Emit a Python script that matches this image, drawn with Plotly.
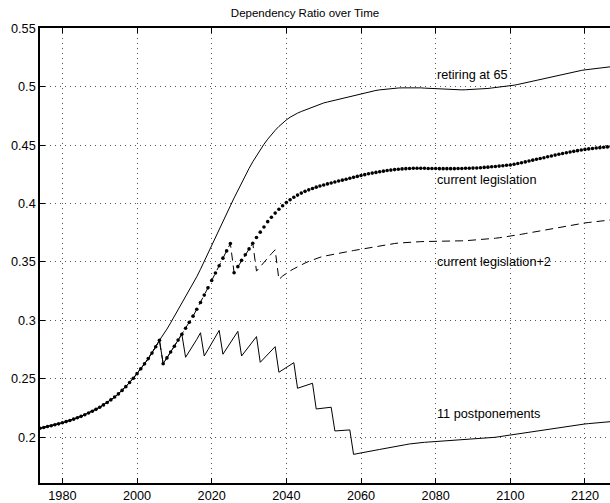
import plotly.graph_objects as go

# Calendar years covered by the projection
years = list(range(1974, 2128))

# Path shared by every scenario up to 2006
shared_1974_2006 = [
    0.2078, 0.2085, 0.2093, 0.2100, 0.2108, 0.2116, 0.2125, 0.2135, 0.2145, 0.2156,
    0.2168, 0.2180, 0.2194, 0.2209, 0.2224, 0.2240, 0.2258, 0.2278, 0.2299, 0.2321,
    0.2345, 0.2372, 0.2402, 0.2434, 0.2469, 0.2506, 0.2545, 0.2586, 0.2629, 0.2674,
    0.2721, 0.2775, 0.2830,
]

# 2007-2127, retirement age kept at 65
retiring_65_tail = [
    0.2873, 0.2926, 0.2980, 0.3035, 0.3090, 0.3145, 0.3200, 0.3255, 0.3312, 0.3374,
    0.3438, 0.3504, 0.3572, 0.3640, 0.3708, 0.3776, 0.3844, 0.3912, 0.3980, 0.4048,
    0.4114, 0.4178, 0.4241, 0.4300, 0.4357, 0.4410, 0.4460, 0.4507, 0.4550, 0.4590,
    0.4626, 0.4659, 0.4689, 0.4715, 0.4738, 0.4757, 0.4773, 0.4787, 0.4800, 0.4812,
    0.4824, 0.4836, 0.4848, 0.4860, 0.4868, 0.4876, 0.4884, 0.4892, 0.4900, 0.4908,
    0.4916, 0.4924, 0.4932, 0.4940, 0.4948, 0.4955, 0.4961, 0.4967, 0.4972, 0.4976,
    0.4980, 0.4983, 0.4986, 0.4988, 0.4989, 0.4990, 0.4990, 0.4990, 0.4990, 0.4989,
    0.4987, 0.4985, 0.4982, 0.4980, 0.4978, 0.4976, 0.4974, 0.4973, 0.4972, 0.4972,
    0.4972, 0.4973, 0.4974, 0.4975, 0.4976, 0.4978, 0.4981, 0.4984, 0.4988, 0.4991,
    0.4994, 0.4998, 0.5002, 0.5006, 0.5012, 0.5018, 0.5025, 0.5032, 0.5040, 0.5048,
    0.5056, 0.5064, 0.5072, 0.5080, 0.5087, 0.5094, 0.5101, 0.5108, 0.5115, 0.5121,
    0.5127, 0.5133, 0.5138, 0.5143, 0.5147, 0.5151, 0.5155, 0.5159, 0.5163, 0.5167,
    0.5170,
]

# 2007-2127, current legislation (steps in 2007 and 2026)
current_leg_tail = [
    0.2630, 0.2680, 0.2730, 0.2780, 0.2832, 0.2882, 0.2934, 0.2985, 0.3037, 0.3096,
    0.3154, 0.3217, 0.3279, 0.3342, 0.3406, 0.3468, 0.3533, 0.3595, 0.3658, 0.3408,
    0.3460, 0.3514, 0.3562, 0.3612, 0.3660, 0.3709, 0.3755, 0.3799, 0.3845, 0.3883,
    0.3918, 0.3951, 0.3981, 0.4008, 0.4032, 0.4053, 0.4072, 0.4089, 0.4104, 0.4117,
    0.4129, 0.4140, 0.4150, 0.4159, 0.4168, 0.4176, 0.4184, 0.4192, 0.4200, 0.4208,
    0.4216, 0.4224, 0.4232, 0.4240, 0.4247, 0.4254, 0.4260, 0.4266, 0.4272, 0.4277,
    0.4282, 0.4286, 0.4290, 0.4293, 0.4296, 0.4298, 0.4300, 0.4301, 0.4301, 0.4301,
    0.4301, 0.4300, 0.4300, 0.4299, 0.4298, 0.4298, 0.4298, 0.4298, 0.4298, 0.4299,
    0.4300, 0.4301, 0.4302, 0.4303, 0.4304, 0.4306, 0.4309, 0.4311, 0.4315, 0.4317,
    0.4320, 0.4323, 0.4327, 0.4330, 0.4336, 0.4342, 0.4349, 0.4356, 0.4364, 0.4371,
    0.4378, 0.4385, 0.4392, 0.4400, 0.4407, 0.4414, 0.4421, 0.4428, 0.4434, 0.4440,
    0.4446, 0.4452, 0.4458, 0.4463, 0.4467, 0.4471, 0.4475, 0.4478, 0.4481, 0.4484,
    0.4487,
]

# 2007-2127, current legislation plus two further steps (2032 and 2038)
current_leg_plus2_tail = [
    0.2630, 0.2680, 0.2730, 0.2780, 0.2832, 0.2882, 0.2934, 0.2985, 0.3037, 0.3096,
    0.3154, 0.3217, 0.3279, 0.3342, 0.3406, 0.3468, 0.3533, 0.3595, 0.3658, 0.3408,
    0.3460, 0.3514, 0.3562, 0.3612, 0.3660, 0.3422, 0.3461, 0.3502, 0.3535, 0.3571,
    0.3604, 0.3350, 0.3380, 0.3404, 0.3424, 0.3442, 0.3460, 0.3476, 0.3491, 0.3505,
    0.3518, 0.3530, 0.3540, 0.3549, 0.3556, 0.3562, 0.3568, 0.3574, 0.3580, 0.3586,
    0.3592, 0.3598, 0.3604, 0.3610, 0.3616, 0.3622, 0.3628, 0.3634, 0.3640, 0.3645,
    0.3650, 0.3654, 0.3658, 0.3662, 0.3665, 0.3668, 0.3670, 0.3672, 0.3673, 0.3674,
    0.3675, 0.3675, 0.3676, 0.3676, 0.3676, 0.3677, 0.3677, 0.3678, 0.3679, 0.3680,
    0.3681, 0.3682, 0.3684, 0.3686, 0.3688, 0.3690, 0.3693, 0.3696, 0.3699, 0.3703,
    0.3707, 0.3711, 0.3715, 0.3720, 0.3725, 0.3731, 0.3737, 0.3743, 0.3749, 0.3755,
    0.3761, 0.3767, 0.3773, 0.3779, 0.3785, 0.3791, 0.3797, 0.3803, 0.3809, 0.3814,
    0.3819, 0.3824, 0.3829, 0.3834, 0.3838, 0.3842, 0.3846, 0.3850, 0.3854, 0.3857,
    0.3860,
]

# 2007-2127, eleven postponements of the retirement age
postpone_11_tail = [
    0.2630, 0.2680, 0.2730, 0.2780, 0.2832, 0.2882, 0.2685, 0.2734, 0.2782, 0.2838,
    0.2895, 0.2696, 0.2750, 0.2806, 0.2859, 0.2915, 0.2711, 0.2762, 0.2814, 0.2862,
    0.2907, 0.2696, 0.2740, 0.2782, 0.2823, 0.2862, 0.2642, 0.2677, 0.2712, 0.2745,
    0.2776, 0.2557, 0.2579, 0.2598, 0.2620, 0.2639, 0.2420, 0.2432, 0.2443, 0.2454,
    0.2463, 0.2243, 0.2248, 0.2252, 0.2255, 0.2258, 0.2055, 0.2058, 0.2060, 0.2062,
    0.2064, 0.1855, 0.1862, 0.1868, 0.1874, 0.1880, 0.1886, 0.1891, 0.1897, 0.1902,
    0.1908, 0.1914, 0.1920, 0.1926, 0.1932, 0.1938, 0.1944, 0.1949, 0.1953, 0.1956,
    0.1958, 0.1960, 0.1962, 0.1964, 0.1966, 0.1968, 0.1970, 0.1971, 0.1973, 0.1975,
    0.1977, 0.1979, 0.1981, 0.1983, 0.1985, 0.1987, 0.1990, 0.1993, 0.1997, 0.2001,
    0.2006, 0.2011, 0.2016, 0.2021, 0.2026, 0.2031, 0.2036, 0.2041, 0.2046, 0.2051,
    0.2056, 0.2061, 0.2066, 0.2071, 0.2076, 0.2081, 0.2086, 0.2091, 0.2096, 0.2101,
    0.2106, 0.2109, 0.2112, 0.2115, 0.2118, 0.2121, 0.2124, 0.2127, 0.2130, 0.2133,
    0.2135,
]

retiring_65 = shared_1974_2006 + retiring_65_tail
current_leg = shared_1974_2006 + current_leg_tail
current_leg_plus2 = shared_1974_2006 + current_leg_plus2_tail
postpone_11 = shared_1974_2006 + postpone_11_tail

# Curve labels: text, anchor year, anchor ratio
label_texts = ["retiring at 65", "current legislation", "current legislation+2", "11 postponements"]
label_years = [2080, 2080, 2080, 2080]
label_values = [0.51, 0.42, 0.35, 0.22]

x_ticks = [1980, 2000, 2020, 2040, 2060, 2080, 2100, 2120]
y_ticks = [0.2, 0.25, 0.3, 0.35, 0.4, 0.45, 0.5, 0.55]
y_tick_text = ["0.2", "0.25", "0.3", "0.35", "0.4", "0.45", "0.5", "0.55"]

FONT = "Liberation Sans, Arial, Helvetica, sans-serif"

fig = go.Figure()
fig.add_trace(go.Scatter(x=years, y=retiring_65, mode="lines",
                         line=dict(color="black", width=1)))
fig.add_trace(go.Scatter(x=years, y=postpone_11, mode="lines",
                         line=dict(color="black", width=1)))
fig.add_trace(go.Scatter(x=years, y=current_leg_plus2, mode="lines",
                         line=dict(color="black", width=1, dash="8px,5px")))
fig.add_trace(go.Scatter(x=years, y=current_leg, mode="markers",
                         marker=dict(color="black", size=3.6, symbol="circle",
                                     line=dict(width=0))))

for txt, xv, yv in zip(label_texts, label_years, label_values):
    fig.add_annotation(x=xv, y=yv, text=txt, showarrow=False,
                       xanchor="left", yanchor="middle", xshift=-1,
                       font=dict(family=FONT, size=12.7, color="black"))

axis_common = dict(
    showline=True, linecolor="black", linewidth=1.5,
    ticks="inside", ticklen=5, tickwidth=1, tickcolor="black",
    showgrid=True, gridcolor="#555555", gridwidth=1, griddash="1px,4px",
    zeroline=False, tickfont=dict(family=FONT, size=12.7, color="black"),
)

fig.update_xaxes(range=[1974.0, 2126.7], tickvals=x_ticks, mirror="ticks", **axis_common)
fig.update_yaxes(range=[0.161, 0.5501], tickvals=y_ticks, ticktext=y_tick_text,
                 mirror=False, **axis_common)

fig.update_layout(
    width=610, height=503,
    margin=dict(l=40, r=0, t=28, b=20),
    paper_bgcolor="white", plot_bgcolor="white",
    showlegend=False,
    font=dict(family=FONT, size=12.7, color="black"),
    title=dict(text="Dependency Ratio over Time", x=0.5, xref="container",
               xanchor="center", y=1 - 13 / 503, yref="container", yanchor="middle",
               font=dict(family=FONT, size=11.5, color="black")),
)

fig.write_html("out.html", config={"displayModeBar": False})
